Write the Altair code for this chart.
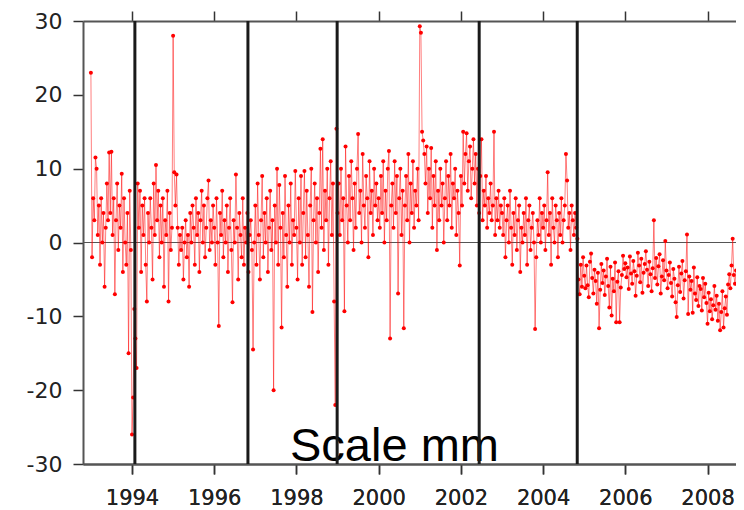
import altair as alt
import pandas as pd

# ~10-day samples (36 per year) (mm)
v1993 = [23, -2, 6, 3, 11.5, 10, 1, 5, -3, 6, 0, 4, -6, 2, 8, 3, 12.2, 4,
         12.3, 1, 6, -7, 3, 8, -1, 5, 2, 9.3, -4, 6, 0, -3, 4, -15, 7, -1]
v1994 = [-26, -21, -9, -13, -17, 8, 2, 7, -4, 5, 1, 6, -3, -8, 4, 0, 6, 2,
         -5, 8, 1, 10.5, 3, 7, -2, 5, 0, 6, -6, 3, 1, 7, -8, 4, -1, 2]
v1995 = [28, 9.5, 5, 9.2, 2, -3, 1, -1, 2, -5, 0, 3, -2, 1, -6, 4, 0, 5,
         2, -3, 6, 1, 4, -4, 3, 7, 0, 5, -2, 2, 6, 8.4, -1, 3, 0, 5]
v1996 = [2, -3, 6, 0, -11.3, 4, 1, 7, -2, 3, 0, 5, -4, 2, 6, -1, -8.1, 3,
         0, 9.2, 2, -5, 4, 1, -2, 6, -3, 2, 0, 4, -4, 1, 3, -1, -14.5, 0]
v1997 = [5, -3, 8, 1, -5, 3, 9, -2, 4, 0, 6, -4, 2, 7, -1, 3, -20, 5,
         0, 10, -3, 7.8, 2, -11.5, 4, -2, 9, 1, -6, 5, 0, 8, -3, 3, 1, 9.7]
v1998 = [2, -5, 6, 0, 9, -3, 4, 9.7, -2, 7, 1, -6, 5, 10, -9.4, 3, 8, 0,
         6, -4, 4, 12.7, 2, 14, -1, 7, 3, 10, -3, 6, 11, 1, 8, -8, -22, 15.4]
v1999 = [4, 8, 1, 10, 3, 6, -9.3, 13, 5, 0, 9, 3, 11, 6, -1, 8, 2, 10,
         14.7, 4, 7, 0, 12, 5, 2, 9, 6, -2, 11, 4, 7, 1, 10, 5, 8, 3]
v2000 = [6, 2, 9, 4, 11, 0, 7, 3, 10, 12.4, -13, 5, 8, 2, 11, 4, 9, -6.9,
         6, 10, 1, 7, -11.6, 5, 9, 3, 12, 0, 8, 4, 11, 2, 7, 5, 10, 3]
v2001 = [29.3, 28.4, 15, 13.8, 12, 8, 13, 4, 10, 6, 12.8, 2, 9, 5, 11, -1, 7, 3,
         10, 5, 8, 0, 6, 11, 3, 9, 5, 12, 2, 8, 6, 10, 1, 7, 4, -3.1]
v2002 = [9, 5, 15, 8, 12, 14.8, 7, 11, 13, 6, 10, 14, 8, 12, 5, 10, 4, 9,
         14, 3, 7, 5, 9, 2, 6, 4, 8, 3, 5, 15, 1, 6, 3, 7, 2, 5]
v2003 = [4, 1, 6, -2, 3, 5, 0, 7, 2, -3, 4, 1, 6, -1, 3, 5, -4, 2,
         0, 4, 1, 6, -3, 3, 5, -1, 2, 4, 0, -11.7, -2, 3, 1, 6, 0, 4]
v2004 = [2, 5, -1, 3, 9.5, 1, 4, -3, 6, 2, 0, 5, 3, -2, 4, 1, 6, 0,
         3, 5, 12, 8.4, 2, 4, -1, 5, 3, 1, 4, 2, 0.5, -5, -7, -3, -6, -2]
v2005 = [-4.5, -6.2, -3.1, -5.8, -7.4, -2.6, -1.5, -4.8, -6.9, -3.7, -5.2, -8.3,
         -4.1, -11.6, -6.4, -2.9, -5.5, -3.8, -7.1, -4.6, -2.2, -5.9, -8.8, -3.3,
         -9.9, -4.9, -6.6, -2.7, -10.8, -5.3, -3.9, -10.8, -6.1, -4.4, -1.8, -3.6]
v2006 = [-2.8, -4.7, -3.4, -6.3, -1.9, -4.2, -5.6, -2.5, -3.9, -7.2, -4.5, -1.4,
         -3.1, -5.4, -2.2, -6.8, -4.1, -2.9, -1.2, -3.7, -5.9, -2.6, -4.3, -6.6,
         -3.5, 3.0, -4.8, -2.1, -5.7, -3.2, -1.6, -6.9, -4.6, -2.4, -5.1, 0.2]
v2007 = [-3.8, -6.2, -4.4, -2.7, -5.5, -7.3, -3.6, -4.9, -8.1, -10.1, -5.8, -3.3,
         -6.7, -4.2, -2.5, -7.6, -5.1, -3.9, 1.1, -9.7, -4.6, -6.4, -5.2, -9.5,
         -3.4, -6.9, -7.8, -4.7, -8.6, -5.9, -6.3, -9.2, -4.8, -7.4, -5.6, -8.2]
v2008 = [-11, -6.8, -9.3, -7.7, -10.4, -8.5, -5.9, -9.1, -7.2, -10.6, -8.3, -11.9,
         -9.4, -6.6, -11.5, -8.9, -7.3, -9.8, -5.7, -4.3, -6.2, -3.1, 0.5, -4.4,
         -5.6, -3.8]

series = (v1993 + v1994 + v1995 + v1996 + v1997 + v1998 + v1999 + v2000 +
          v2001 + v2002 + v2003 + v2004 + v2005 + v2006 + v2007 + v2008)
start_year = 1993
per_year = 36
years = [start_year + i / per_year for i in range(len(series))]

breaks = [1994.07, 1996.82, 1998.99, 2002.445, 2004.83]
x_ticks = [1994, 1996, 1998, 2000, 2002, 2004, 2006, 2008]
y_ticks = [-30, -20, -10, 0, 10, 20, 30]
label_text = ["Scale mm"]

df = pd.DataFrame({"year": years, "mm": series})
df_breaks = pd.DataFrame({"year": breaks})
df_zero = pd.DataFrame({"mm": [0]})
df_label = pd.DataFrame({"label": label_text})

xscale = alt.Scale(domain=[1992.808, 2008.692], nice=False, zero=False)
yscale = alt.Scale(domain=[-30, 30], nice=False)

common = dict(grid=False, title=None, tickSize=10, tickColor="#333", tickWidth=1.5,
              domainColor="#555", domainWidth=2, labelFont="DejaVu Sans",
              labelColor="#222", labelExpr="'' + datum.value")

bottom_axis = alt.Axis(values=x_ticks, orient="bottom", labelPadding=13, labelFontSize=21, **common)
top_axis = alt.Axis(values=x_ticks, orient="top", labels=False, **common)
left_axis = alt.Axis(values=y_ticks, orient="left", labelPadding=11, labelFontSize=22, **common)

zero = alt.Chart(df_zero).mark_rule(color="#555", strokeWidth=1).encode(
    y=alt.Y("mm:Q", scale=yscale, axis=left_axis)
)

line = alt.Chart(df).mark_line(color="red", strokeWidth=1, opacity=0.5, clip=True).encode(
    x=alt.X("year:Q", scale=xscale, axis=bottom_axis),
    y=alt.Y("mm:Q", scale=yscale, axis=left_axis),
)

points = alt.Chart(df).mark_circle(color="red", size=16, opacity=1, clip=True).encode(
    x=alt.X("year:Q", scale=xscale, axis=bottom_axis),
    y=alt.Y("mm:Q", scale=yscale, axis=left_axis),
)

label = alt.Chart(df_label).mark_text(
    align="left", baseline="alphabetic", font="Liberation Sans", fontSize=47, color="black"
).encode(x=alt.value(207), y=alt.value(440), text="label:N")

rules = alt.Chart(df_breaks).mark_rule(color="#1a1a1a", strokeWidth=3).encode(
    x=alt.X("year:Q", scale=xscale, axis=top_axis)
)

chart = alt.layer(zero, line, points, label, rules).properties(
    width=653, height=443,
    padding={"left": 75, "top": 13, "right": 0, "bottom": 45},
    autosize="none",
).configure_view(stroke=None)

chart.save("out.html", embed_options={"renderer": "svg", "actions": False})
